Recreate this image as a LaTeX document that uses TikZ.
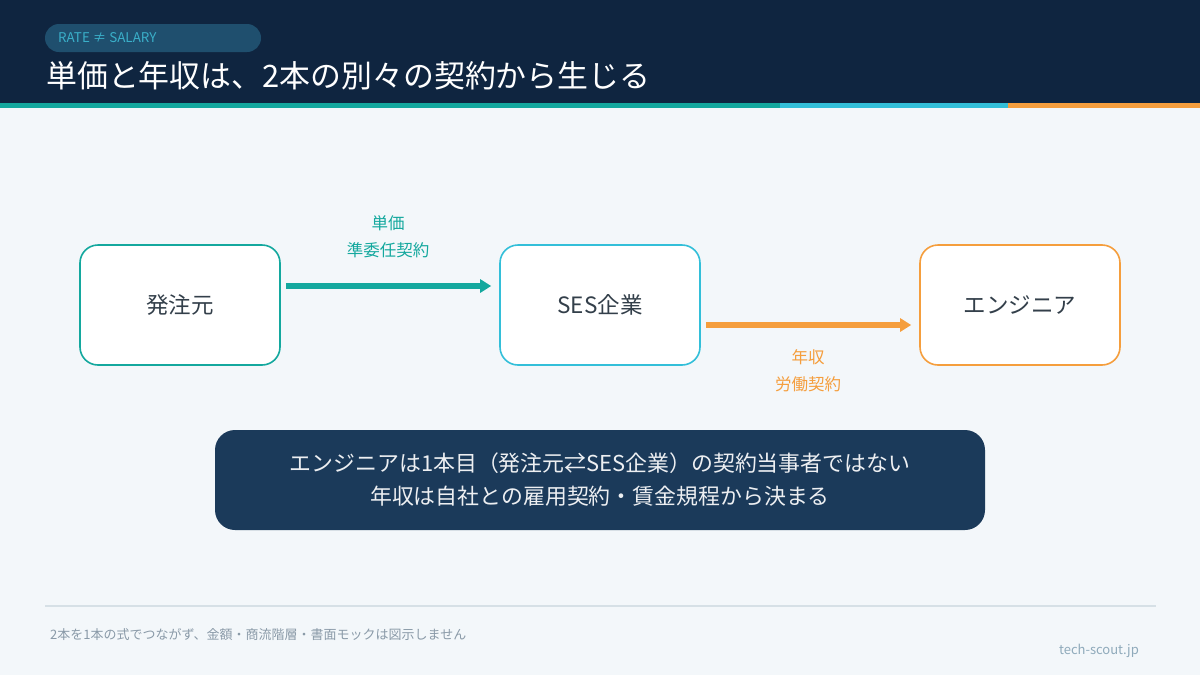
\documentclass[tikz,border=0pt]{standalone}
\usepackage{fontspec}
\setmainfont{Noto Sans CJK JP}
\usetikzlibrary{arrows.meta}
\definecolor{navy}{HTML}{0F2540}
\definecolor{bg}{HTML}{F3F7FA}
\definecolor{teal}{HTML}{14A89E}
\definecolor{cyanc}{HTML}{33BFD9}
\definecolor{orangec}{HTML}{F59E3D}
\definecolor{pill}{HTML}{1F4F6E}
\definecolor{pilltxt}{HTML}{3AAFC9}
\definecolor{darkbox}{HTML}{1B3A5A}
\definecolor{txt}{HTML}{333F4A}
\definecolor{foot}{HTML}{8A9AA8}
\definecolor{site}{HTML}{8FAABB}
\definecolor{rule}{HTML}{D6E0E6}
\tikzset{
  x=1pt, y=-1pt,
  partybox/.style={draw, line width=1.6pt, fill=white, rounded corners=18pt, minimum width=200pt, minimum height=120pt, font=\fontsize{22.5}{26}\selectfont, text=txt},
  flow/.style={line width=6pt, -{Triangle[length=11pt,width=13pt]}},
  lbl/.style={font=\fontsize{16.5}{27}\selectfont, align=center}
}
\begin{document}
\begin{tikzpicture}
\useasboundingbox (0,0) rectangle (1200,675);
\fill[bg] (0,0) rectangle (1200,675);
\fill[navy] (0,0) rectangle (1200,103);
\fill[teal] (0,103) rectangle (780,108);
\fill[cyanc] (780,103) rectangle (1008,108);
\fill[orangec] (1008,103) rectangle (1200,108);
\node[fill=pill, rounded corners=14pt, minimum width=216pt, minimum height=28pt, inner sep=0pt] (pill) at (153,38) {};
\node[anchor=west, text=pilltxt, font=\fontsize{13.4}{15}\selectfont, inner sep=0pt] (pilltext) at (58,38) {RATE ≠ SALARY};
\node[anchor=west, text=white, font=\fontsize{30.9}{34}\selectfont, inner sep=0pt] (title) at (46,76) {単価と年収は、2本の別々の契約から生じる};

\node[partybox, draw=teal] (client) at (180,305) {発注元};
\node[partybox, draw=cyanc] (ses) at (600,305) {SES企業};
\node[partybox, draw=orangec] (eng) at (1020,305) {エンジニア};

\draw[flow, teal] ([xshift=5pt,yshift=19pt]client.east) -- ([xshift=-8pt,yshift=19pt]ses.west);
\draw[flow, orangec] ([xshift=5pt,yshift=-20pt]ses.east) -- ([xshift=-8pt,yshift=-20pt]eng.west);
\node[lbl, text=teal] (l1) at (388,237) {単価\\準委任契約};
\node[lbl, text=orangec] (l2) at (808,371) {年収\\労働契約};

\node[fill=darkbox, rounded corners=20pt, minimum width=770pt, minimum height=100pt, text=white!92!darkbox, font=\fontsize{21.9}{33}\selectfont, align=center] (note) at (600,480) {エンジニアは1本目（発注元⇄SES企業）の契約当事者ではない\\年収は自社との雇用契約・賃金規程から決まる};

\draw[rule, line width=2pt] (45,606) -- (1156,606);
\node[anchor=west, text=foot, font=\fontsize{13}{15}\selectfont, inner sep=0pt] (footnote) at (50,635) {2本を1本の式でつながず、金額・商流階層・書面モックは図示しません};
\node[anchor=east, text=site, font=\fontsize{13}{15}\selectfont, inner sep=0pt] (siteurl) at (1139,651) {tech-scout.jp};
\end{tikzpicture}
\end{document}
